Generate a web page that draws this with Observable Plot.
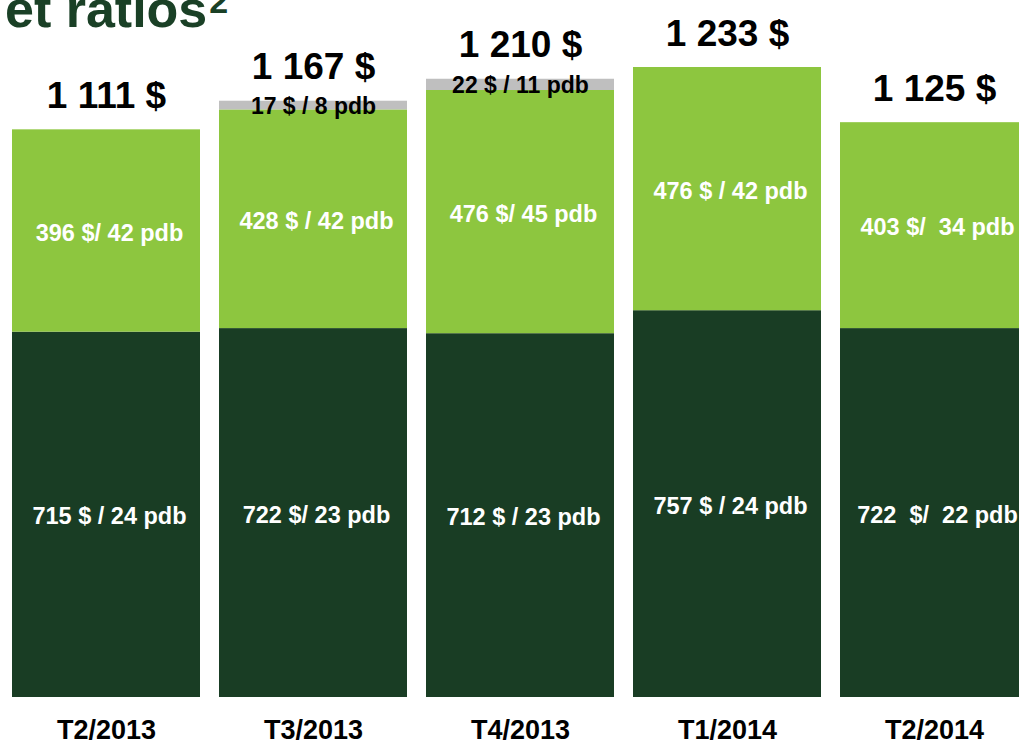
<!DOCTYPE html>
<html>
<head>
<meta charset="utf-8">
<script src="https://cdn.jsdelivr.net/npm/d3@7"></script>
<script src="https://cdn.jsdelivr.net/npm/@observablehq/plot@0.6"></script>
<style>
  html, body { margin: 0; padding: 0; background: #fff; overflow: hidden; }
  #wrap { position: relative; width: 1019px; height: 740px; overflow: hidden; }
  #title { position: absolute; left: 5px; top: -17px; font: bold 52px "Liberation Sans", Arial, sans-serif; line-height: 52px; color: #1a4026; white-space: nowrap; z-index: 2; }
  #title sup { font-size: 34px; position: relative; top: -14px; vertical-align: baseline; margin-left: 2px; }
  svg text { white-space: pre; }
</style>
</head>
<body>
<div id="wrap">
  <div id="title">et ratios<sup>2</sup></div>
  <div id="chart"></div>
</div>
<script>
const quarters = ["T2/2013", "T3/2013", "T4/2013", "T1/2014", "T2/2014"];
const darkValues = [715, 722, 712, 757, 722];
const lightValues = [396, 428, 476, 476, 403];
const greyValues = [0, 17, 22, 0, 0];
const totals = [1111, 1167, 1210, 1233, 1125];
const darkLabels = ["715 $ / 24 pdb", "722 $/ 23 pdb", "712 $ / 23 pdb", "757 $ / 24 pdb", "722  $/  22 pdb"];
const lightLabels = ["396 $/ 42 pdb", "428 $ / 42 pdb", "476 $/ 45 pdb", "476 $ / 42 pdb", "403 $/  34 pdb"];
const greyLabels = ["", "17 $ / 8 pdb", "22 $ / 11 pdb", "", ""];
const totalLabels = ["1 111 $", "1 167 $", "1 210 $", "1 233 $", "1 125 $"];

const segments = [];
quarters.forEach((q, i) => {
  const d = darkValues[i], l = lightValues[i], g = greyValues[i];
  segments.push({quarter: q, part: "dark", y1: 0, y2: d, label: darkLabels[i]});
  segments.push({quarter: q, part: "light", y1: d, y2: d + l, label: lightLabels[i]});
  if (g > 0) segments.push({quarter: q, part: "grey", y1: d + l, y2: d + l + g, label: greyLabels[i]});
});
segments.forEach(s => s.mid = (s.y1 + s.y2) / 2);
const totalRows = quarters.map((q, i) => ({quarter: q, total: totals[i], label: totalLabels[i]}));

const font = "Liberation Sans, Arial, sans-serif";
const chart = Plot.plot({
  width: 1019,
  height: 740,
  margin: 0,
  style: {background: "#ffffff", fontFamily: font},
  x: {type: "band", domain: quarters, range: [11.7, 1029.4], paddingInner: 0.0907, paddingOuter: 0, axis: null},
  y: {domain: [0, 1233], range: [697, 67], axis: null},
  color: {domain: ["dark", "light", "grey"], range: ["#193d24", "#8dc63f", "#bfbfbf"]},
  marks: [
    Plot.barY(segments, {x: "quarter", y1: "y1", y2: "y2", fill: "part"}),
    Plot.text(segments.filter(s => s.part !== "grey"), {x: "quarter", y: "mid", text: "label", fill: "#ffffff", fontSize: 23.5, fontWeight: "bold", lineAnchor: "middle", dx: 3, dy: 2}),
    Plot.text(segments.filter(s => s.part === "grey"), {x: "quarter", y: "mid", text: "label", fill: "#000000", fontSize: 23, fontWeight: "bold", lineAnchor: "middle", dy: 1}),
    Plot.text(totalRows, {x: "quarter", y: "total", text: "label", fill: "#000000", fontSize: 37, fontWeight: "bold", lineAnchor: "bottom", dy: -22}),
    Plot.text(quarters, {x: d => d, frameAnchor: "bottom", text: d => d, fill: "#000000", fontSize: 27, fontWeight: "bold", lineAnchor: "bottom", dy: -2})
  ]
});
document.getElementById("chart").appendChild(chart);
</script>
</body>
</html>
